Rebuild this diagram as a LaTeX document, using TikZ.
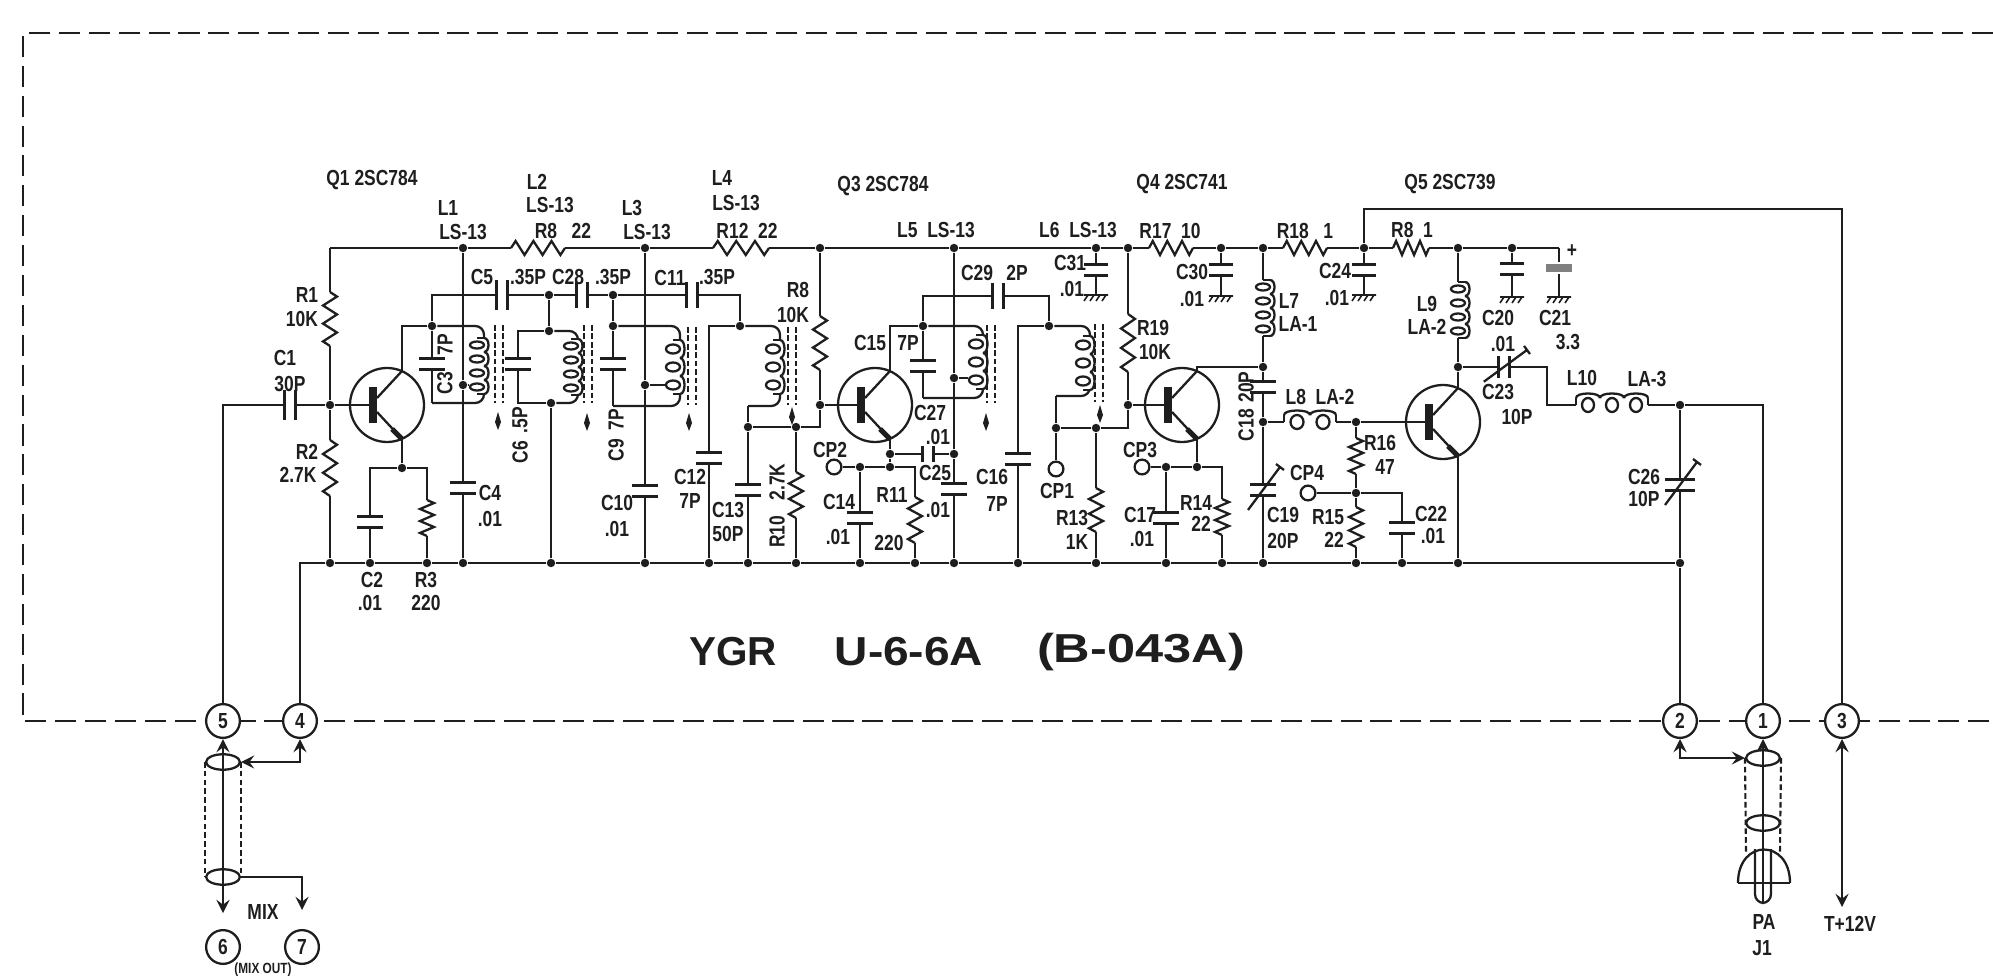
\documentclass[tikz,border=0pt]{standalone}
\usepackage{fontspec}
\setmainfont{Liberation Sans}
\newfontfamily\lblfont[FakeStretch=0.8]{Liberation Sans}
\usetikzlibrary{positioning}
\usetikzlibrary{arrows}
\usetikzlibrary{shapes.geometric}
\definecolor{ink}{HTML}{1E1E1E}

\begin{document}
\begin{tikzpicture}[x=0.01cm,y=-0.01cm,node distance=2.4mm,on grid,>=stealth,
        color=ink,line width=0.65pt,
        lbl/.style={inner sep=0pt,font=\fontsize{6.2}{7}\lblfont\bfseries},
        big/.style={inner sep=0pt,transform shape,font=\fontsize{11.5}{13}\selectfont\bfseries},
        dot/.style={circle,fill,inner sep=0pt,minimum size=2.4pt},
        tp/.style={circle,draw,fill=white,inner sep=0pt,minimum size=4.2pt},
        term/.style={circle,draw,fill=white,inner sep=0pt,minimum size=9.6pt,font=\fontsize{6.2}{7}\lblfont\bfseries},
        shield/.style={ellipse,draw,inner sep=0pt,minimum width=9.6pt,minimum height=4.4pt},
        box/.style={line width=0.5pt,dash pattern=on 6pt off 2.5pt},
        braid/.style={line width=0.6pt,dash pattern=on 1.6pt off 0.9pt},
        pics/capv/.style={code={
          \fill[white] (-8,-5.5) rectangle (8,5.5);
          \draw (-#1,-5.5) -- (#1,-5.5) (-#1,5.5) -- (#1,5.5);}},
        pics/capv/.default=13,
        pics/elcap/.style={code={
          \fill[white] (-10,-6) rectangle (10,6);
          \fill[gray] (-13,-4) rectangle (13,4);}},
        pics/zig/.style={code={
          \fill[white] (-9,-#1) rectangle (9,#1);
          \draw (0,-#1) -- (7,{-.83*#1}) -- (-7,{-.5*#1}) -- (7,{-.17*#1}) -- (-7,{.17*#1}) -- (7,{.5*#1}) -- (-7,{.83*#1}) -- (0,#1);}},
        pics/coil/.style 2 args={code={
          \fill[white] (-15,{-#1*#2}) rectangle (6,{#1*#2});
          \draw (-7,{-#1*#2}) -- (0,{-#1*#2}) (-7,{#1*#2}) -- (0,{#1*#2});
          \foreach \i in {1,...,#1}{
            \pgfmathsetmacro\yc{(\i-(#1+1)/2)*2*#2}
            \draw (-7,\yc) ellipse [x radius=7,y radius={.5*#2}];
            \draw (0,{\yc-#2}) .. controls (6,{\yc-#2}) and (6,{\yc+#2}) .. (0,{\yc+#2});
          }}},
        pics/core/.style={code={
          \draw[line width=0.5pt,dash pattern=on 1.6pt off 0.8pt] (-4,-39) -- (-4,39) (4,-39) -- (4,39);}},
        pics/slug/.style={code={
          \fill (0,-10) -- (3,0) -- (0,8) -- (-3,0) -- cycle;}},
        pics/trim/.style={code={
          \draw (-15,20) -- (17,-23) (13,-26) -- (21,-20);}},
        pics/gnd/.style={code={
          \draw[line width=0.45pt] (-12,0) -- (12,0)
            (-8,0) -- (-12,6) (-2,0) -- (-6,6) (4,0) -- (0,6) (10,0) -- (6,6);}},
        pics/bjt/.style={code={
          \coordinate (-b) at (-14,0);
          \coordinate (-c) at (15,-34);
          \coordinate (-e) at (15,34);
          \draw (0,0) circle [radius=37];
          \fill (-18,-18) rectangle (-10,18);
          \draw (-10,-7) -- (-c);
          \draw (-10,7) -- (-e);
          \draw[line width=1.5pt] (5,24) -- (-e);}}]

        \useasboundingbox (0,0) rectangle (1993,976);

        % unit outline
        \coordinate (boxtr) at (1993,33);
        \coordinate (boxtl) at (23,33);
        \coordinate (boxbl) at (23,721);
        \coordinate (boxbr) at (1993,721);
        \draw[box] (boxtr) -- (boxtl) -- (boxbl) -- (boxbr);

        % terminals
        \node[term] (t5) at (223,721) {5};
        \node[term] (t4) at (300,721) {4};
        \node[term] (t2) at (1680,721) {2};
        \node[term] (t1) at (1763,721) {1};
        \node[term] (t3) at (1842,721) {3};
        \node[term] (t6) at (223,947) {6};
        \node[term] (t7) at (302,947) {7};

        % supply rail
        \coordinate (railtl) at (330,248);
        \node[dot] (jl1) at (463,248) {};
        \node[dot] (jl3) at (645,248) {};
        \node[dot] (jr9) at (820,248) {};
        \node[dot] (jl5) at (954,248) {};
        \node[dot] (jc31) at (1096,248) {};
        \node[dot] (jr19) at (1128,248) {};
        \node[dot] (jc30) at (1221,248) {};
        \node[dot] (jl7) at (1263,248) {};
        \node[dot] (jc24) at (1364,248) {};
        \node[dot] (jl9) at (1458,248) {};
        \node[dot] (jc20) at (1512,248) {};
        \coordinate (jc21) at (1559,248);

        % ground rail
        \node[dot] (gr2) at (330,563) {};
        \node[dot] (gc2) at (370,563) {};
        \node[dot] (gr3) at (427,563) {};
        \node[dot] (gc4) at (463,563) {};
        \node[dot] (gl2) at (551,563) {};
        \node[dot] (gc10) at (645,563) {};
        \node[dot] (gc12) at (709,563) {};
        \node[dot] (gc13) at (748,563) {};
        \node[dot] (gr10) at (796,563) {};
        \node[dot] (gc14) at (860,563) {};
        \node[dot] (gr11) at (915,563) {};
        \node[dot] (gc25) at (954,563) {};
        \node[dot] (gc16) at (1018,563) {};
        \node[dot] (gr13) at (1096,563) {};
        \node[dot] (gc17) at (1166,563) {};
        \node[dot] (gr14) at (1222,563) {};
        \node[dot] (gc19) at (1263,563) {};
        \node[dot] (gr15) at (1356,563) {};
        \node[dot] (gc22) at (1402,563) {};
        \node[dot] (gq5) at (1458,563) {};
        \node[dot] (gc26) at (1680,563) {};

        % junctions
        \node[dot] (jq1b) at (330,405) {};
        \node[dot] (jq1e) at (402,468) {};
        \node[dot] (jc3) at (432,326) {};
        \node[dot] (jl1t) at (463,385) {};
        \node[dot] (jc6) at (549,295) {};
        \node[dot] (jl2t) at (549,331) {};
        \node[dot] (jl2b) at (551,403) {};
        \node[dot] (jc9) at (613,295) {};
        \node[dot] (jc9t) at (613,326) {};
        \node[dot] (jl3t) at (645,385) {};
        \node[dot] (jc12) at (740,326) {};
        \node[dot] (jc13) at (748,427) {};
        \node[dot] (jr10) at (796,427) {};
        \node[dot] (jq3b) at (820,405) {};
        \node[dot] (jq3c) at (923,326) {};
        \node[dot] (jl5t) at (954,378) {};
        \node[dot] (jc27) at (954,454) {};
        \node[dot] (jc27l) at (890,454) {};
        \node[dot] (jr11) at (890,467) {};
        \node[dot] (jc14) at (860,467) {};
        \node[dot] (jc16) at (1049,326) {};
        \node[dot] (jtp1) at (1056,428) {};
        \node[dot] (jr13) at (1096,428) {};
        \node[dot] (jq4b) at (1128,405) {};
        \node[dot] (jr14) at (1197,467) {};
        \node[dot] (jc17) at (1166,467) {};
        \node[dot] (jl7b) at (1263,367) {};
        \node[dot] (jl8) at (1263,422) {};
        \node[dot] (jr16) at (1356,422) {};
        \node[dot] (jr15) at (1356,493) {};
        \node[dot] (jq5c) at (1458,367) {};
        \node[dot] (jc26) at (1680,405) {};

        % test points
        \node[tp] (tp2) at (834,467) {};
        \node[tp] (tp1) at (1056,469) {};
        \node[tp] (tp3) at (1142,467) {};
        \node[tp] (tp4) at (1308,493) {};

        % wire corners
        \coordinate (c1tr) at (484,326);
        \coordinate (c1br) at (484,403);
        \coordinate (c1bl) at (432,403);
        \coordinate (c1tap) at (471,385);
        \coordinate (c2tl) at (518,331);
        \coordinate (c2bl) at (518,403);
        \coordinate (c2tr) at (578,331);
        \coordinate (c2br) at (578,403);
        \coordinate (c3tr) at (680,326);
        \coordinate (c3br) at (680,406);
        \coordinate (c3bl) at (613,406);
        \coordinate (c3tap) at (667,385);
        \coordinate (c11r) at (740,295);
        \coordinate (c4tr) at (780,326);
        \coordinate (c4br) at (780,406);
        \coordinate (c4bl) at (748,406);
        \coordinate (c5tr) at (983,326);
        \coordinate (c5br) at (983,398);
        \coordinate (c5bl) at (923,398);
        \coordinate (c5top) at (923,296);
        \coordinate (c5tap) at (970,378);
        \coordinate (c29r) at (1049,296);
        \coordinate (c6tr) at (1090,326);
        \coordinate (c6br) at (1090,396);
        \coordinate (c6bl) at (1056,396);
        \coordinate (c23b) at (1547,405);
        \coordinate (bplus) at (1364,209);
        \coordinate (bplusr) at (1842,209);
        \coordinate (gd31) at (1096,295);
        \coordinate (gd30) at (1221,296);
        \coordinate (gd24) at (1364,295);
        \coordinate (gd20) at (1512,297);
        \coordinate (gd21) at (1559,297);

        % the wires go first, parts cover them
        \draw (railtl) -- (jl1) -- (jl3) -- (jr9) -- (jl5) -- (jc31) -- (jr19) -- (jc30) -- (jl7) -- (jc24) -- (jl9) -- (jc20) -- (jc21);
        \draw (gr2) -- (gc2) -- (gr3) -- (gc4) -- (gl2) -- (gc10) -- (gc12) -- (gc13) -- (gr10) -- (gc14) -- (gr11) -- (gc25) -- (gc16) -- (gr13) -- (gc17) -- (gr14) -- (gc19) -- (gr15) -- (gc22) -- (gq5) -- (gc26);

        \pic (q1) at (387,405) {bjt};
        \pic (q3) at (875,405) {bjt};
        \pic (q4) at (1182,405) {bjt};
        \pic (q5) at (1443,422) {bjt};

        \draw (railtl) -- (jq1b) -- (gr2);
        \draw (t5) |- (jq1b);
        \draw (jq1b) -- (q1-b);
        \draw (t4) |- (gr2);
        \draw (q1-c) |- (jc3);
        \draw (q1-e) -- (jq1e);
        \draw (gc2) |- (jq1e) -| (gr3);
        \draw (jl1) -- (jl1t) -- (gc4);
        \draw (jl1t) -- (c1tap);
        \draw[rounded corners=2.5pt] (jc3) -- (c1tr) -- (c1br) -- (c1bl);
        \draw (c1bl) -- (jc3);
        \draw (jc3) |- (jc6);
        \draw (jc6) -- (jc9) -- (c11r) -- (jc12);
        \draw (jc6) -- (jl2t);
        \draw (jl2t) -- (c2tl) -- (c2bl) -- (jl2b);
        \draw[rounded corners=2.5pt] (jl2t) -- (c2tr) -- (c2br) -- (jl2b);
        \draw (jl2b) -- (gl2);
        \draw (jc9) -- (jc9t) -- (c3bl);
        \draw[rounded corners=2.5pt] (jc9t) -- (c3tr) -- (c3br) -- (c3bl);
        \draw (jl3) -- (jl3t) -- (gc10);
        \draw (jl3t) -- (c3tap);
        \draw (jc12) -| (gc12);
        \draw[rounded corners=2.5pt] (jc12) -- (c4tr) -- (c4br) -- (c4bl);
        \draw (c4bl) -- (jc13) -- (gc13);
        \draw (jc13) -- (jr10) -| (jq3b);
        \draw (jr10) -- (gr10);
        \draw (jr9) -- (jq3b) -- (q3-b);
        \draw (q3-c) |- (jq3c);
        \draw (jq3c) -- (c5top) -- (c29r) -- (jc16);
        \draw[rounded corners=2.5pt] (jq3c) -- (c5tr) -- (c5br) -- (c5bl);
        \draw (c5bl) -- (jq3c);
        \draw (jl5) -- (jl5t) -- (jc27) -- (gc25);
        \draw (jl5t) -- (c5tap);
        \draw (q3-e) -- (jc27l) -- (jr11);
        \draw (jc27l) -- (jc27);
        \draw (tp2) -- (jc14) -- (jr11) -| (gr11);
        \draw (jc14) -- (gc14);
        \draw (jc16) -| (gc16);
        \draw[rounded corners=2.5pt] (jc16) -- (c6tr) -- (c6br) -- (c6bl);
        \draw (c6bl) -- (jtp1) -- (tp1);
        \draw (jtp1) -- (jr13) -| (jq4b);
        \draw (jr13) -- (gr13);
        \draw (jr19) -- (jq4b) -- (q4-b);
        \draw (jc31) -- (gd31);
        \draw (jc30) -- (gd30);
        \draw (jc24) -- (gd24);
        \draw (jc20) -- (gd20);
        \draw (jc21) -- (gd21);
        \draw (q4-c) |- (jl7b);
        \draw (q4-e) -- (jr14);
        \draw (tp3) -- (jc17) -- (jr14) -| (gr14);
        \draw (jc17) -- (gc17);
        \draw (jl7) -- (jl7b) -- (jl8) -- (gc19);
        \draw (jl8) -- (jr16) -- (q5-b);
        \draw (jr16) -- (jr15) -- (gr15);
        \draw (tp4) -- (jr15) -| (gc22);
        \draw (jl9) -- (jq5c) -- (q5-c);
        \draw (q5-e) -- (gq5);
        \draw (jq5c) -| (c23b) -- (jc26) -| (t1);
        \draw (jc26) -- (gc26) -- (t2);
        \draw (jc24) -- (bplus) -- (bplusr) -- (t3);

        % resistors
        \pic at (330,319) {zig=27};
        \pic at (330,468) {zig=28};
        \pic at (427,518) {zig=18};
        \pic[rotate=90] at (538,248) {zig=27};
        \pic[rotate=90] at (741,248) {zig=28};
        \pic at (820,343) {zig=27};
        \pic at (796,495) {zig=23};
        \pic at (915,520) {zig=23};
        \pic at (1096,510) {zig=22};
        \pic at (1128,343) {zig=29};
        \pic[rotate=90] at (1171,248) {zig=22};
        \pic[rotate=90] at (1305,248) {zig=22};
        \pic[rotate=90] at (1411,248) {zig=18};
        \pic at (1222,517) {zig=18};
        \pic at (1356,456) {zig=18};
        \pic at (1356,527) {zig=20};

        % capacitors
        \pic[rotate=90] at (290,405) {capv=15};
        \pic at (370,522) {capv};
        \pic at (463,488) {capv};
        \pic at (432,364) {capv};
        \pic[rotate=90] at (502,295) {capv=15};
        \pic[rotate=90] at (582,295) {capv=13};
        \pic[rotate=90] at (692,295) {capv=13};
        \pic at (518,364) {capv};
        \pic at (613,364) {capv};
        \pic at (645,491) {capv};
        \pic at (709,458) {capv};
        \pic at (748,490) {capv};
        \pic at (923,366) {capv};
        \pic[rotate=90] at (998,296) {capv=13};
        \pic[rotate=90] at (928,454) {capv=8};
        \pic at (954,489) {capv};
        \pic at (860,518) {capv};
        \pic at (1018,459) {capv};
        \pic at (1166,518) {capv};
        \pic at (1096,270) {capv=12};
        \pic at (1221,270) {capv=12};
        \pic at (1364,270) {capv=12};
        \pic at (1512,269) {capv=12};
        \pic at (1559,268) {elcap};
        \pic at (1263,387) {capv};
        \pic at (1263,490) {capv};
        \pic at (1402,528) {capv};
        \pic[rotate=90] at (1504,367) {capv=11};
        \pic at (1680,485) {capv=15};

        % trimmers
        \pic at (1263,490) {trim};
        \pic[rotate=-17] at (1504,367) {trim};
        \pic at (1680,485) {trim};

        % coils, cores and slugs
        \pic at (484,366) {coil={4}{7}};
        \pic at (578,367) {coil={4}{7}};
        \pic at (680,367) {coil={3}{9}};
        \pic at (780,367) {coil={3}{9}};
        \pic at (983,362) {coil={3}{9}};
        \pic at (1090,363) {coil={3}{9}};
        \pic at (1270,308) {coil={4}{7}};
        \pic at (1465,310) {coil={4}{7}};
        \pic[rotate=90] at (1310,415) {coil={2}{13}};
        \pic[rotate=90] at (1612,398) {coil={3}{12}};
        \pic at (499,364) {core};
        \pic at (588,364) {core};
        \pic at (692,366) {core};
        \pic at (792,366) {core};
        \pic at (991,364) {core};
        \pic at (1099,363) {core};
        \pic at (498,422) {slug};
        \pic at (587,423) {slug};
        \pic at (689,423) {slug};
        \pic at (792,417) {slug};
        \pic at (986,423) {slug};
        \pic at (1100,415) {slug};

        % grounds
        \pic at (gd31) {gnd};
        \pic at (gd30) {gnd};
        \pic at (gd24) {gnd};
        \pic at (gd20) {gnd};
        \pic at (gd21) {gnd};

        % input cable
        \node[shield] (e5a) at (223,762) {};
        \node[shield] (e5b) at (223,877) {};
        \coordinate (a6) at (223,913);
        \coordinate (a7) at (302,910);
        \path[<->] (t5) edge [] node[] {} (a6);
        \draw[<->] (e5a.east) -| (t4);
        \draw[->] (e5b.east) -| (a7);
        \draw[braid] (e5a.west) -- (e5b.west);
        \draw[braid] (e5a.east) -- (e5b.east);

        % output cable and plug
        \node[shield] (e1a) at (1763,758) {};
        \node[shield] (e1b) at (1763,823) {};
        \coordinate (plugl) at (1738,883);
        \coordinate (plugr) at (1790,883);
        \coordinate (pintl) at (1755,849);
        \coordinate (pinbl) at (1755,903);
        \coordinate (pinbr) at (1771,903);
        \coordinate (pintr) at (1771,849);
        \coordinate (pinc) at (1763,903);
        \coordinate (e1dl) at (1746,853);
        \coordinate (e1dr) at (1780,853);
        \coordinate (a12) at (1842,907);
        \draw[<-] (t1) -- (pinc);
        \draw[<->] (t2) |- (e1a.west);
        \draw[<->] (t3) -- (a12);
        \draw[braid] (e1a.west) -- (e1dl);
        \draw[braid] (e1a.east) -- (e1dr);
        \draw (plugl) -- (plugr);
        \draw (plugl) to[out=90,in=90,looseness=2.2] (plugr);
        \draw[rounded corners=2.5pt] (pintl) -- (pinbl) -- (pinbr) -- (pintr);

        % labels
        \node[lbl] (lq1) at (372,180) {Q1 2SC784};
        \node[lbl] (lq3) at (883,186) {Q3 2SC784};
        \node[lbl] (lq4) at (1182,184) {Q4 2SC741};
        \node[lbl] (lq5) at (1450,184) {Q5 2SC739};

        \node[lbl] (ll1v) at (463,232) {LS-13};
        \node[lbl] (ll1) [above=of ll1v, xshift=-1.5mm] {L1};
        \node[lbl] (lr8) at (563,231) {R8\ \ \ 22};
        \node[lbl] (ll2v) [above=of lr8, xshift=-1.3mm, yshift=.2mm] {LS-13};
        \node[lbl] (ll2) [above=of ll2v, xshift=-1.3mm, yshift=-.1mm] {L2};
        \node[lbl] (ll3v) at (647,232) {LS-13};
        \node[lbl] (ll3) [above=of ll3v, xshift=-1.5mm] {L3};
        \node[lbl] (lr12) at (747,231) {R12\ \ 22};
        \node[lbl] (ll4v) [above=of lr12, xshift=-1.1mm, yshift=.4mm] {LS-13};
        \node[lbl] (ll4) [above=of ll4v, xshift=-1.4mm, yshift=.1mm] {L4};
        \node[lbl] (ll5) at (936,230) {L5\ \ LS-13};
        \node[lbl] (ll6) at (1078,230) {L6\ \ LS-13};
        \node[lbl] (lr17) at (1170,231) {R17\ \ 10};
        \node[lbl] (lr18) at (1305,231) {R18\ \ \ 1};
        \node[lbl] (lr8b) at (1412,230) {R8\ \ 1};

        \node[lbl] (lc5) at (482,277) {C5};
        \node[lbl] (lc5v) at (528,277) {.35P};
        \node[lbl] (lc28) at (568,277) {C28};
        \node[lbl] (lc28v) at (613,277) {.35P};
        \node[lbl] (lc11) at (670,278) {C11};
        \node[lbl] (lc11v) at (717,277) {.35P};
        \node[lbl] (lc29) at (977,273) {C29};
        \node[lbl] (lc29v) at (1017,273) {2P};

        \node[lbl] (lr1) at (307,295) {R1};
        \node[lbl] (lr1v) [below=of lr1, xshift=-.5mm] {10K};
        \node[lbl] (lc1) at (285,358) {C1};
        \node[lbl] (lc1v) [below=of lc1, xshift=.5mm, yshift=-.2mm] {30P};
        \node[lbl] (lr2) at (307,452) {R2};
        \node[lbl] (lr2v) [below=of lr2, xshift=-.9mm, yshift=.1mm] {2.7K};
        \node[lbl] (lc4) at (490,493) {C4};
        \node[lbl] (lc4v) [below=of lc4, yshift=-.2mm] {.01};
        \node[lbl] (lc2) at (372,580) {C2};
        \node[lbl] (lc2v) [below=of lc2, xshift=-.2mm, yshift=.1mm] {.01};
        \node[lbl] (lr3) at (426,580) {R3};
        \node[lbl] (lr3v) [below=of lr3, yshift=.1mm] {220};
        \node[lbl] (lc10) at (617,503) {C10};
        \node[lbl] (lc10v) [below=of lc10, yshift=-.2mm] {.01};
        \node[lbl] (lc12) at (690,477) {C12};
        \node[lbl] (lc12v) [below=of lc12] {7P};
        \node[lbl] (lc13) at (728,510) {C13};
        \node[lbl] (lc13v) [below=of lc13] {50P};

        \node[lbl,rotate=90] (lc3) at (445,383) {C3};
        \node[lbl,rotate=90] (lc3v) at (445,345) {7P};
        \node[lbl,rotate=90] (lc6) at (520,452) {C6};
        \node[lbl,rotate=90] (lc6v) at (520,420) {.5P};
        \node[lbl,rotate=90] (lc9) at (616,450) {C9};
        \node[lbl,rotate=90] (lc9v) at (616,420) {7P};
        \node[lbl,rotate=90] (lr10) at (777,532) {R10};
        \node[lbl,rotate=90] (lr10v) at (777,482) {2.7K};
        \node[lbl,rotate=90] (lc18) at (1246,425) {C18};
        \node[lbl,rotate=90] (lc18v) at (1246,387) {20P};

        \node[lbl] (lr9) at (798,290) {R8};
        \node[lbl] (lr9v) [below=of lr9, xshift=-.5mm, yshift=-.1mm] {10K};
        \node[lbl] (lc15) at (870,343) {C15};
        \node[lbl] (lc15v) at (908,343) {7P};
        \node[lbl] (lc31) at (1070,263) {C31};
        \node[lbl] (lc31v) [below=of lc31, xshift=.2mm, yshift=-.2mm] {.01};
        \node[lbl] (lr19) at (1153,328) {R19};
        \node[lbl] (lr19v) [below=of lr19, xshift=.2mm] {10K};
        \node[lbl] (lc27) at (930,413) {C27};
        \node[lbl] (lc27v) [below=of lc27, xshift=.8mm] {.01};
        \node[lbl] (lcp2) at (830,450) {CP2};
        \node[lbl] (lc25) at (935,473) {C25};
        \node[lbl] (lc25v) at (938,510) {.01};
        \node[lbl] (lc14) at (839,502) {C14};
        \node[lbl] (lc14v) at (838,537) {.01};
        \node[lbl] (lr11) at (892,495) {R11};
        \node[lbl] (lr11v) at (889,543) {220};
        \node[lbl] (lc16) at (992,477) {C16};
        \node[lbl] (lc16v) [below=of lc16, xshift=.5mm, yshift=-.3mm] {7P};
        \node[lbl] (lcp1) at (1057,491) {CP1};
        \node[lbl] (lr13) at (1072,518) {R13};
        \node[lbl] (lr13v) [below=of lr13, xshift=.5mm] {1K};
        \node[lbl] (lcp3) at (1140,450) {CP3};
        \node[lbl] (lc17) at (1140,515) {C17};
        \node[lbl] (lc17v) [below=of lc17, xshift=.2mm] {.01};

        \node[lbl] (lc30) at (1192,272) {C30};
        \node[lbl] (lc30v) [below=of lc30, yshift=-.3mm] {.01};
        \node[lbl] (lc24) at (1335,271) {C24};
        \node[lbl] (lc24v) [below=of lc24, xshift=.2mm, yshift=-.3mm] {.01};
        \node[lbl] (ll7) at (1289,301) {L7};
        \node[lbl] (ll7v) [below=of ll7, xshift=.9mm, yshift=.1mm] {LA-1};
        \node[lbl] (ll9) at (1427,304) {L9};
        \node[lbl] (ll9v) [below=of ll9, yshift=.1mm] {LA-2};
        \node[lbl] (lc20) at (1498,318) {C20};
        \node[lbl] (lc20v) [below=of lc20, xshift=.5mm, yshift=-.2mm] {.01};
        \node[lbl] (lc21) at (1555,318) {C21};
        \node[lbl] (lc21v) [below=of lc21, xshift=1.3mm] {3.3};
        \node[lbl] (lc21p) at (1572,251) {+};
        \node[lbl] (lc23) at (1498,392) {C23};
        \node[lbl] (lc23v) [below=of lc23, xshift=1.9mm, yshift=-.1mm] {10P};
        \node[lbl] (ll10) at (1582,378) {L10};
        \node[lbl] (ll10v) at (1647,379) {LA-3};
        \node[lbl] (ll8) at (1320,397) {L8\ \ LA-2};
        \node[lbl] (lr16) at (1380,443) {R16};
        \node[lbl] (lr16v) [below=of lr16, xshift=.5mm] {47};
        \node[lbl] (lcp4) at (1307,473) {CP4};
        \node[lbl] (lr14) at (1196,503) {R14};
        \node[lbl] (lr14v) [below=of lr14, xshift=.5mm, yshift=.3mm] {22};
        \node[lbl] (lc19) at (1283,515) {C19};
        \node[lbl] (lc19v) [below=of lc19, yshift=-.2mm] {20P};
        \node[lbl] (lr15) at (1328,517) {R15};
        \node[lbl] (lr15v) [below=of lr15, xshift=.6mm, yshift=.1mm] {22};
        \node[lbl] (lc22) at (1431,514) {C22};
        \node[lbl] (lc22v) [below=of lc22, xshift=.2mm, yshift=.2mm] {.01};
        \node[lbl] (lc26) at (1644,477) {C26};
        \node[lbl] (lc26v) [below=of lc26, yshift=.2mm] {10P};

        \node[lbl] (lmix) at (263,912) {MIX};
        \node[lbl,font=\fontsize{4.2}{5}\lblfont\bfseries] (lmixo) at (263,970) {(MIX OUT)};
        \node[lbl] (lpa) at (1764,922) {PA};
        \node[lbl] (lj1) [below=of lpa, yshift=-.2mm, xshift=-.2mm] {J1};
        \node[lbl] (lt12) at (1850,924) {T+12V};

        \node[big] (lygr) at (733,652) {YGR};
        \node[big,xscale=1.14] (lunit) at (909,652) {U-6-6A};
        \node[big,xscale=1.25] (lboard) at (1141,652) {(B-043A)};

      \end{tikzpicture}
\end{document}
